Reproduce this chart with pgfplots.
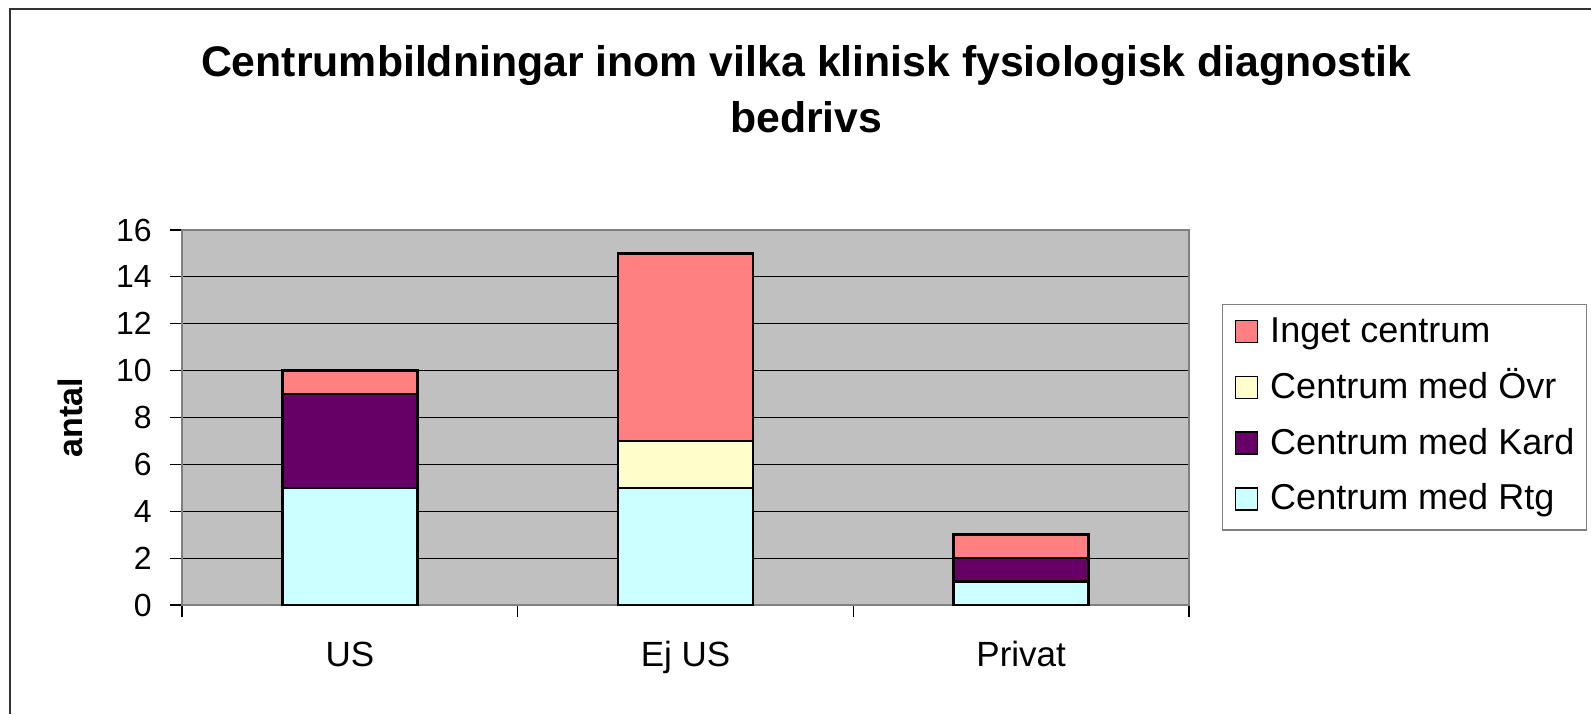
\documentclass[border=0pt]{standalone}
\usepackage{fontspec}
\setmainfont{Liberation Sans}
\usepackage{pgfplots}
\pgfplotsset{compat=1.18}
\definecolor{plotbg}{HTML}{C0C0C0}
\definecolor{cRtg}{HTML}{CCFFFF}
\definecolor{cKard}{HTML}{660066}
\definecolor{cOvr}{HTML}{FFFFCC}
\definecolor{cInget}{HTML}{FF8080}
\definecolor{frame}{HTML}{333333}
\begin{document}
\begin{tikzpicture}
\useasboundingbox (0,0) rectangle (795.5pt,357pt);
\draw[frame, line width=1pt] (5pt,0) -- (5pt,352.5pt) -- (795.5pt,352.5pt);
\begin{axis}[
  at={(91pt,54.5pt)}, anchor=south west,
  scale only axis, width=503.5pt, height=187.5pt,
  ybar stacked, bar width=67.5pt,
  xmin=-0.5, xmax=2.5, ymin=0, ymax=16,
  ytick={0,2,...,16},
  xtick={-0.5,0.5,1.5,2.5}, xticklabels={},
  extra x ticks={0,1,2},
  extra x tick labels={US,Ej US,Privat},
  extra x tick style={major tick length=0pt, grid=none,
    tick label style={font=\fontsize{17.5}{20}\selectfont, anchor=base, yshift=-30.75pt, inner sep=0pt}},
  tick align=outside, major tick length=6pt,
  tick style={black, line width=0.6pt},
  xtick pos=bottom, ytick pos=left,
  ymajorgrids, major grid style={black, line width=0.6pt},
  axis background/.style={fill=plotbg},
  axis line style={draw=gray, line width=1pt},
  /pgf/number format/assume math mode=true,
  yticklabel style={font=\fontsize{16}{18}\selectfont, anchor=east, inner sep=0pt, xshift=-9pt},
  ylabel={antal},
  ylabel style={font=\bfseries\fontsize{17}{20}\selectfont, at={(axis description cs:-0.111,0.5)}, anchor=center, rotate=0},
  title={Centrumbildningar inom vilka klinisk fysiologisk diagnostik\\bedrivs},
  title style={font=\bfseries\fontsize{21.4}{28}\selectfont, align=center, at={(rel axis cs:0.62,1.344)}, anchor=center},
  reverse legend,
  legend style={at={(rel axis cs:1.0328,0.8027)}, anchor=north west,
    draw=gray, line width=0.6pt, inner sep=6pt,
    font=\fontsize{18}{20}\selectfont,
    nodes={inner sep=0pt, text height=13pt, text depth=4pt, anchor=base west},
    row sep=10.9pt, column sep=6pt, cells={anchor=west}},
  legend image code/.code={\draw[#1, line width=0.8pt] (0pt,0pt) rectangle (11pt,11pt);},
  every axis plot/.append style={draw=black, line width=1.2pt},
]
\addplot[fill=cRtg] coordinates {(0,5) (1,5) (2,1)};
\addplot[fill=cKard] coordinates {(0,4) (1,0) (2,1)};
\addplot[fill=cOvr] coordinates {(0,0) (1,2) (2,0)};
\addplot[fill=cInget] coordinates {(0,1) (1,8) (2,1)};
\legend{Centrum med Rtg,Centrum med Kard,Centrum med Övr,Inget centrum}
\end{axis}
\end{tikzpicture}
\end{document}
